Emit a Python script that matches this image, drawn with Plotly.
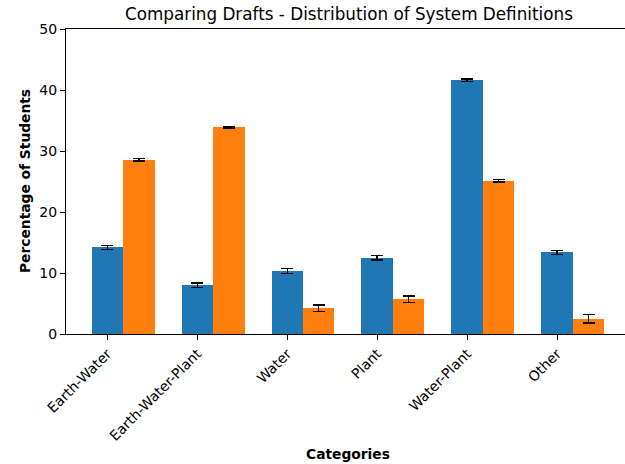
import plotly.graph_objects as go

categories = ["Earth-Water", "Earth-Water-Plant", "Water", "Plant", "Water-Plant", "Other"]
draft1 = [14.2, 8.0, 10.3, 12.5, 41.6, 13.4]
draft2 = [28.6, 33.9, 4.2, 5.7, 25.1, 2.5]
draft1_err = [0.33, 0.35, 0.4, 0.33, 0.2, 0.33]
draft2_err = [0.2, 0.15, 0.55, 0.5, 0.2, 0.7]
yticks = [0, 10, 20, 30, 40, 50]

W = 0.35
x = list(range(len(categories)))
x2 = [v + W for v in x]

font = "DejaVu Sans"
L, R, T, B = 66, 0, 29, 130
plot_w = 625 - L - R
plot_h = 464 - T - B


def px(xp):
    return (xp - L) / plot_w


def py(yp):
    return (464 - B - yp) / plot_h


fig = go.Figure()
fig.add_trace(go.Bar(x=x, y=draft1, width=W, marker=dict(color="#1f77b4", line=dict(width=0)),
                     error_y=dict(type="data", array=draft1_err, color="black", thickness=1.5, width=6),
                     name="Draft 1", showlegend=False))
fig.add_trace(go.Bar(x=x2, y=draft2, width=W, marker=dict(color="#ff7f0e", line=dict(width=0)),
                     error_y=dict(type="data", array=draft2_err, color="black", thickness=1.5, width=6),
                     name="Draft 2", showlegend=False))

fig.update_layout(
    width=625, height=464,
    margin=dict(l=L, r=R, t=T, b=B, autoexpand=False),
    plot_bgcolor="white", paper_bgcolor="white",
    font=dict(family=font, size=14, color="black"),
    bargap=0,
    barmode="overlay",
    annotations=[
        dict(text="Comparing Drafts - Distribution of System Definitions", x=px(349), y=py(14),
             xref="paper", yref="paper", xanchor="center", yanchor="middle",
             showarrow=False, font=dict(size=16.8, family=font, color="black")),
        dict(text="<b>Categories</b>", x=px(348), y=py(454), xref="paper", yref="paper",
             xanchor="center", yanchor="middle",
             showarrow=False, font=dict(size=13.8, family=font, color="black")),
        dict(text="<b>Percentage of Students</b>", textangle=-90, x=px(25), y=py(181),
             xref="paper", yref="paper", xanchor="center", yanchor="middle",
             showarrow=False, font=dict(size=13.8, family=font, color="black")),
    ],
)

fig.update_xaxes(range=[-0.46, 5.755], tickmode="array", tickvals=x, ticktext=categories,
                 tickangle=-45, showline=True, linecolor="black", linewidth=1.2, mirror=True,
                 ticks="outside", ticklen=5, tickcolor="black", showgrid=False, zeroline=False,
                 automargin=False,
                 tickfont=dict(size=14, family=font, color="black"))
fig.update_yaxes(range=[0, 50], tickmode="array", tickvals=yticks, showline=True, linecolor="black",
                 linewidth=1.2, ticks="outside", ticklen=5, tickcolor="black", showgrid=False,
                 zeroline=False, automargin=False, tickfont=dict(size=14, family=font, color="black"))

fig.write_html("out.html", config={"displayModeBar": False},
               post_script="document.body.style.margin='0';")
